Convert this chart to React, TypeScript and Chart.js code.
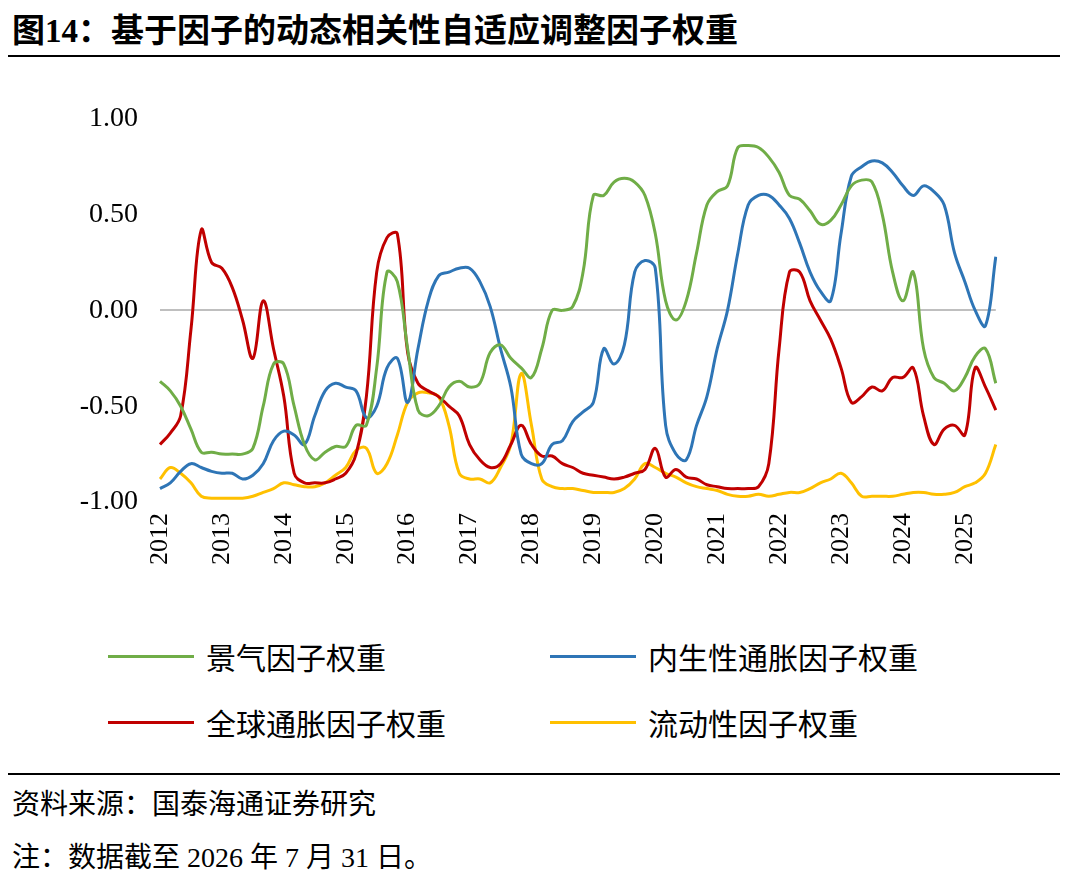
import React, { useEffect, useRef } from "react";
import { Chart, registerables } from "chart.js";
Chart.register(...registerables);

const years = ["2012","2013","2014","2015","2016","2017","2018","2019","2020","2021","2022","2023","2024","2025"];
const perYear = 6;

const jingqi = [-0.37,-0.42,-0.5,-0.62,-0.74,-0.74,-0.75,-0.75,-0.75,-0.72,-0.5,-0.28,-0.28,-0.5,-0.7,-0.78,-0.74,-0.71,-0.71,-0.6,-0.6,-0.3,0.2,0.15,-0.2,-0.52,-0.55,-0.5,-0.4,-0.37,-0.4,-0.38,-0.22,-0.18,-0.25,-0.3,-0.35,-0.2,0.0,0.0,0.02,0.2,0.6,0.6,0.67,0.69,0.67,0.6,0.4,0.05,-0.05,0.05,0.3,0.55,0.62,0.65,0.85,0.86,0.85,0.8,0.72,0.6,0.58,0.52,0.45,0.47,0.55,0.65,0.68,0.67,0.5,0.2,0.05,0.2,-0.2,-0.35,-0.38,-0.42,-0.35,-0.24,-0.2,-0.38];
const neisheng = [-0.93,-0.9,-0.84,-0.8,-0.82,-0.84,-0.85,-0.85,-0.88,-0.86,-0.8,-0.68,-0.63,-0.65,-0.7,-0.55,-0.42,-0.38,-0.4,-0.42,-0.56,-0.5,-0.3,-0.25,-0.48,-0.2,0.05,0.18,0.2,0.22,0.22,0.15,0.02,-0.2,-0.4,-0.75,-0.8,-0.8,-0.7,-0.68,-0.58,-0.53,-0.48,-0.2,-0.28,-0.18,0.2,0.26,0.22,-0.6,-0.75,-0.78,-0.6,-0.45,-0.2,0.0,0.3,0.55,0.6,0.6,0.55,0.48,0.35,0.2,0.1,0.05,0.4,0.7,0.75,0.78,0.77,0.72,0.65,0.6,0.65,0.62,0.55,0.3,0.15,0.0,-0.08,0.28];
const quanqiu = [-0.7,-0.64,-0.55,-0.1,0.42,0.25,0.22,0.12,-0.05,-0.25,0.05,-0.2,-0.45,-0.85,-0.9,-0.9,-0.9,-0.88,-0.85,-0.75,-0.45,0.2,0.38,0.4,-0.22,-0.38,-0.42,-0.45,-0.5,-0.55,-0.7,-0.78,-0.82,-0.8,-0.7,-0.6,-0.7,-0.76,-0.76,-0.8,-0.82,-0.85,-0.86,-0.87,-0.88,-0.87,-0.85,-0.83,-0.72,-0.87,-0.83,-0.87,-0.88,-0.91,-0.92,-0.93,-0.93,-0.93,-0.92,-0.8,-0.2,0.2,0.2,0.05,-0.05,-0.15,-0.3,-0.48,-0.45,-0.4,-0.42,-0.35,-0.35,-0.3,-0.55,-0.7,-0.62,-0.6,-0.65,-0.3,-0.4,-0.52];
const liudong = [-0.88,-0.82,-0.85,-0.9,-0.97,-0.98,-0.98,-0.98,-0.98,-0.97,-0.95,-0.93,-0.9,-0.91,-0.92,-0.92,-0.9,-0.86,-0.82,-0.73,-0.72,-0.85,-0.8,-0.65,-0.48,-0.43,-0.43,-0.45,-0.6,-0.85,-0.88,-0.88,-0.9,-0.82,-0.7,-0.33,-0.6,-0.88,-0.92,-0.93,-0.93,-0.94,-0.95,-0.95,-0.95,-0.93,-0.88,-0.8,-0.82,-0.85,-0.87,-0.9,-0.92,-0.93,-0.94,-0.96,-0.97,-0.97,-0.96,-0.97,-0.96,-0.95,-0.95,-0.93,-0.9,-0.88,-0.85,-0.9,-0.97,-0.97,-0.97,-0.97,-0.96,-0.95,-0.95,-0.96,-0.96,-0.95,-0.92,-0.9,-0.85,-0.7];

const seriesNames = ["景气因子权重", "内生性通胀因子权重", "全球通胀因子权重", "流动性因子权重"];
const colors = ["#70AD47", "#2E75B6", "#C00000", "#FFC000"];

const serif = "'Liberation Serif','Times New Roman','Noto Sans CJK SC',serif";

export default function App() {
  const ref = useRef<HTMLCanvasElement>(null);
  useEffect(() => {
    document.body.style.margin = "0";
    const labels = jingqi.map((_, i) => (i % perYear === 0 ? years[i / perYear] : ""));
    const data = [jingqi, neisheng, quanqiu, liudong];
    const chart = new Chart(ref.current!, {
      type: "line",
      data: {
        labels,
        datasets: data.map((d, i) => ({
          label: seriesNames[i],
          data: d,
          borderColor: colors[i],
          borderWidth: 3,
          pointRadius: 0,
          tension: 0.4,
          fill: false,
        })),
      },
      options: {
        animation: false,
        responsive: false,
        layout: { padding: { top: 10, right: 10 } },
        plugins: { legend: { display: false }, tooltip: { enabled: false } },
        scales: {
          x: {
            offset: false,
            grid: { display: false },
            border: { display: false },
            ticks: {
              autoSkip: false,
              maxRotation: 90,
              minRotation: 90,
              color: "#000",
              font: { family: serif, size: 26 },
              callback: (_v, i) => labels[i],
            },
            afterFit: (s: any) => { s.height = 110; },
          },
          y: {
            min: -1,
            max: 1,
            ticks: {
              stepSize: 0.5,
              color: "#000",
              font: { family: serif, size: 28 },
              callback: (v: any) => Number(v).toFixed(2),
              padding: 22,
            },
            grid: {
              drawTicks: false,
              color: (c: any) => (c.tick && c.tick.value === 0 ? "#BFBFBF" : "transparent"),
              lineWidth: 2,
            },
            border: { display: false },
            afterFit: (s: any) => { s.width = 160; },
          },
        },
      },
    });
    return () => chart.destroy();
  }, []);

  const legendItem = (i: number, left: number, top: number) => (
    <div key={i} style={{ position: "absolute", left, top, display: "flex", alignItems: "center" }}>
      <div style={{ width: 86, height: 3, background: colors[i], marginRight: 12 }} />
      <span style={{ fontSize: 30, fontFamily: serif, color: "#000" }}>{seriesNames[i]}</span>
    </div>
  );

  return (
    <div style={{ position: "relative", width: 1080, height: 884, background: "#fff", overflow: "hidden" }}>
      <div style={{ position: "absolute", left: 12, top: 4, fontSize: 33, fontWeight: "bold", fontFamily: serif, color: "#000" }}>
        图14：基于因子的动态相关性自适应调整因子权重
      </div>
      <div style={{ position: "absolute", left: 8, top: 55, width: 1052, height: 2, background: "#000" }} />
      <div style={{ position: "absolute", left: 0, top: 80 }}>
        <canvas ref={ref} width={1030} height={532} style={{ width: 1030, height: 532 }} />
      </div>
      {legendItem(0, 108, 634)}
      {legendItem(1, 550, 634)}
      {legendItem(2, 108, 700)}
      {legendItem(3, 550, 700)}
      <div style={{ position: "absolute", left: 8, top: 773, width: 1052, height: 2, background: "#000" }} />
      <div style={{ position: "absolute", left: 12, top: 782, fontSize: 28, fontFamily: serif, color: "#000" }}>
        资料来源：国泰海通证券研究
      </div>
      <div style={{ position: "absolute", left: 12, top: 835, fontSize: 28, fontFamily: serif, color: "#000" }}>
        注：数据截至 2026 年 7 月 31 日。
      </div>
    </div>
  );
}
